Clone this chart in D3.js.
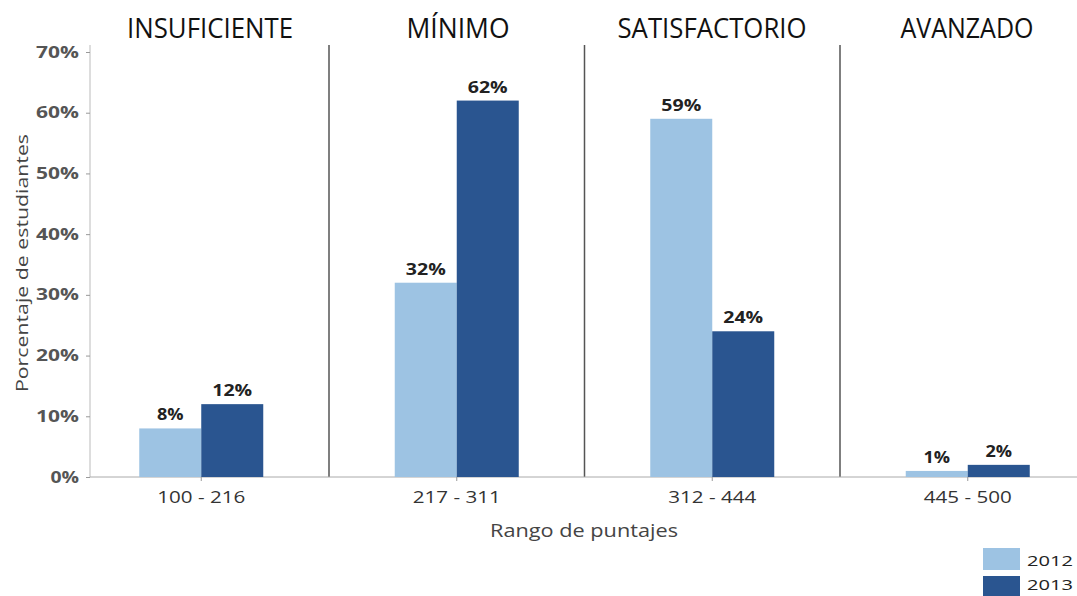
<!DOCTYPE html>
<html><head><meta charset="utf-8">
<script src="https://cdn.jsdelivr.net/npm/d3@7"></script>
<style>body{margin:0;background:#fff}svg{display:block}</style>
</head><body>
<script>
const categories = ["100 - 216","217 - 311","312 - 444","445 - 500"];
const levels = ["INSUFICIENTE","MÍNIMO","SATISFACTORIO","AVANZADO"];
const series = ["2012","2013"];
const values2012 = [8,32,59,1];
const values2013 = [12,62,24,2];
const yTicks = [0,10,20,30,40,50,60,70];
const colors = ["#9dc3e3","#2a5590"];

const W=1077,H=596;
const svg=d3.select("body").append("svg").attr("width",W).attr("height",H);
const font="'Open Sans', sans-serif";
const x=d3.scaleBand().domain(categories).range([73.5,1095.5]);
const y=d3.scaleLinear().domain([0,70]).range([477,52]);
const xs=d3.scaleBand().domain(series).range([-62,62]);
const charW=(s,w)=>s.length*w;

// dividers
svg.selectAll(".div").data(categories.slice(1)).join("line")
 .attr("x1",d=>x(d)).attr("x2",d=>x(d)).attr("y1",45).attr("y2",477)
 .attr("stroke","#555").attr("stroke-width",1.5);

// y axis
const ya=svg.append("g").attr("transform","translate(90,0)")
 .call(d3.axisLeft(y).tickValues(yTicks).tickFormat(d=>d+"%").tickSize(4).tickPadding(7));
ya.select(".domain").attr("stroke","#bbb").attr("d","M-0,45V477");
ya.selectAll(".tick line").attr("stroke","#999");
ya.selectAll("text").attr("font-family",font).attr("font-size",16).attr("font-weight","bold").attr("fill","#555")
 .attr("textLength",function(){return charW(this.textContent,14.3);}).attr("lengthAdjust","spacingAndGlyphs");

// x axis
const xa=svg.append("g").attr("transform","translate(0,477)")
 .call(d3.axisBottom(x).tickSize(4).tickPadding(10));
xa.select(".domain").attr("stroke","#aaa").attr("d","M90,0H1096");
xa.selectAll(".tick line").attr("stroke","#999");
xa.selectAll("text").attr("font-family",font).attr("font-size",17).attr("fill","#333")
 .attr("textLength",88).attr("lengthAdjust","spacingAndGlyphs");

// bars
const data=categories.map((c,i)=>({c,vals:[values2012[i],values2013[i]]}));
const g=svg.selectAll(".grp").data(data).join("g").attr("transform",d=>`translate(${x(d.c)+x.bandwidth()/2},0)`);
g.selectAll("rect").data(d=>d.vals.map((v,j)=>({v,s:series[j],j}))).join("rect")
 .attr("x",d=>xs(d.s)).attr("width",xs.bandwidth()).attr("y",d=>y(d.v)).attr("height",d=>y(0)-y(d.v))
 .attr("fill",d=>colors[d.j]);
g.selectAll("text").data(d=>d.vals.map((v,j)=>({v,s:series[j],j}))).join("text")
 .attr("x",d=>xs(d.s)+xs.bandwidth()/2).attr("y",d=>y(d.v)-8).attr("text-anchor","middle")
 .attr("font-family",font).attr("font-size",16).attr("font-weight","bold").attr("fill","#222")
 .attr("textLength",d=>charW(d.v+"%",13.3)).attr("lengthAdjust","spacingAndGlyphs")
 .text(d=>d.v+"%");

// level titles
const tw=[166,103,189,133];
svg.selectAll(".lv").data(levels).join("text")
 .attr("x",(d,i)=>[210,458,712,967][i]).attr("y",38).attr("text-anchor","middle")
 .attr("font-family",font).attr("font-size",27).attr("fill","#111")
 .attr("textLength",(d,i)=>tw[i]).attr("lengthAdjust","spacingAndGlyphs").text(d=>d);

// axis titles
svg.append("text").attr("transform","translate(28,263) rotate(-90)").attr("text-anchor","middle")
 .attr("font-family",font).attr("font-size",17).attr("fill","#444")
 .attr("textLength",258).attr("lengthAdjust","spacingAndGlyphs").text("Porcentaje de estudiantes");
svg.append("text").attr("x",584).attr("y",537).attr("text-anchor","middle")
 .attr("font-family",font).attr("font-size",18).attr("fill","#444")
 .attr("textLength",188).attr("lengthAdjust","spacingAndGlyphs").text("Rango de puntajes");

// legend
const lg=svg.selectAll(".lg").data(series).join("g").attr("transform",(d,i)=>`translate(983,${548+i*28})`);
lg.append("rect").attr("width",37).attr("height",(d,i)=>i?20:22).attr("fill",(d,i)=>colors[i]);
lg.append("text").attr("x",44).attr("y",(d,i)=>i?14:18).attr("font-family",font).attr("font-size",15).attr("fill","#222")
 .attr("textLength",46).attr("lengthAdjust","spacingAndGlyphs").text(d=>d);
</script>
</body></html>
